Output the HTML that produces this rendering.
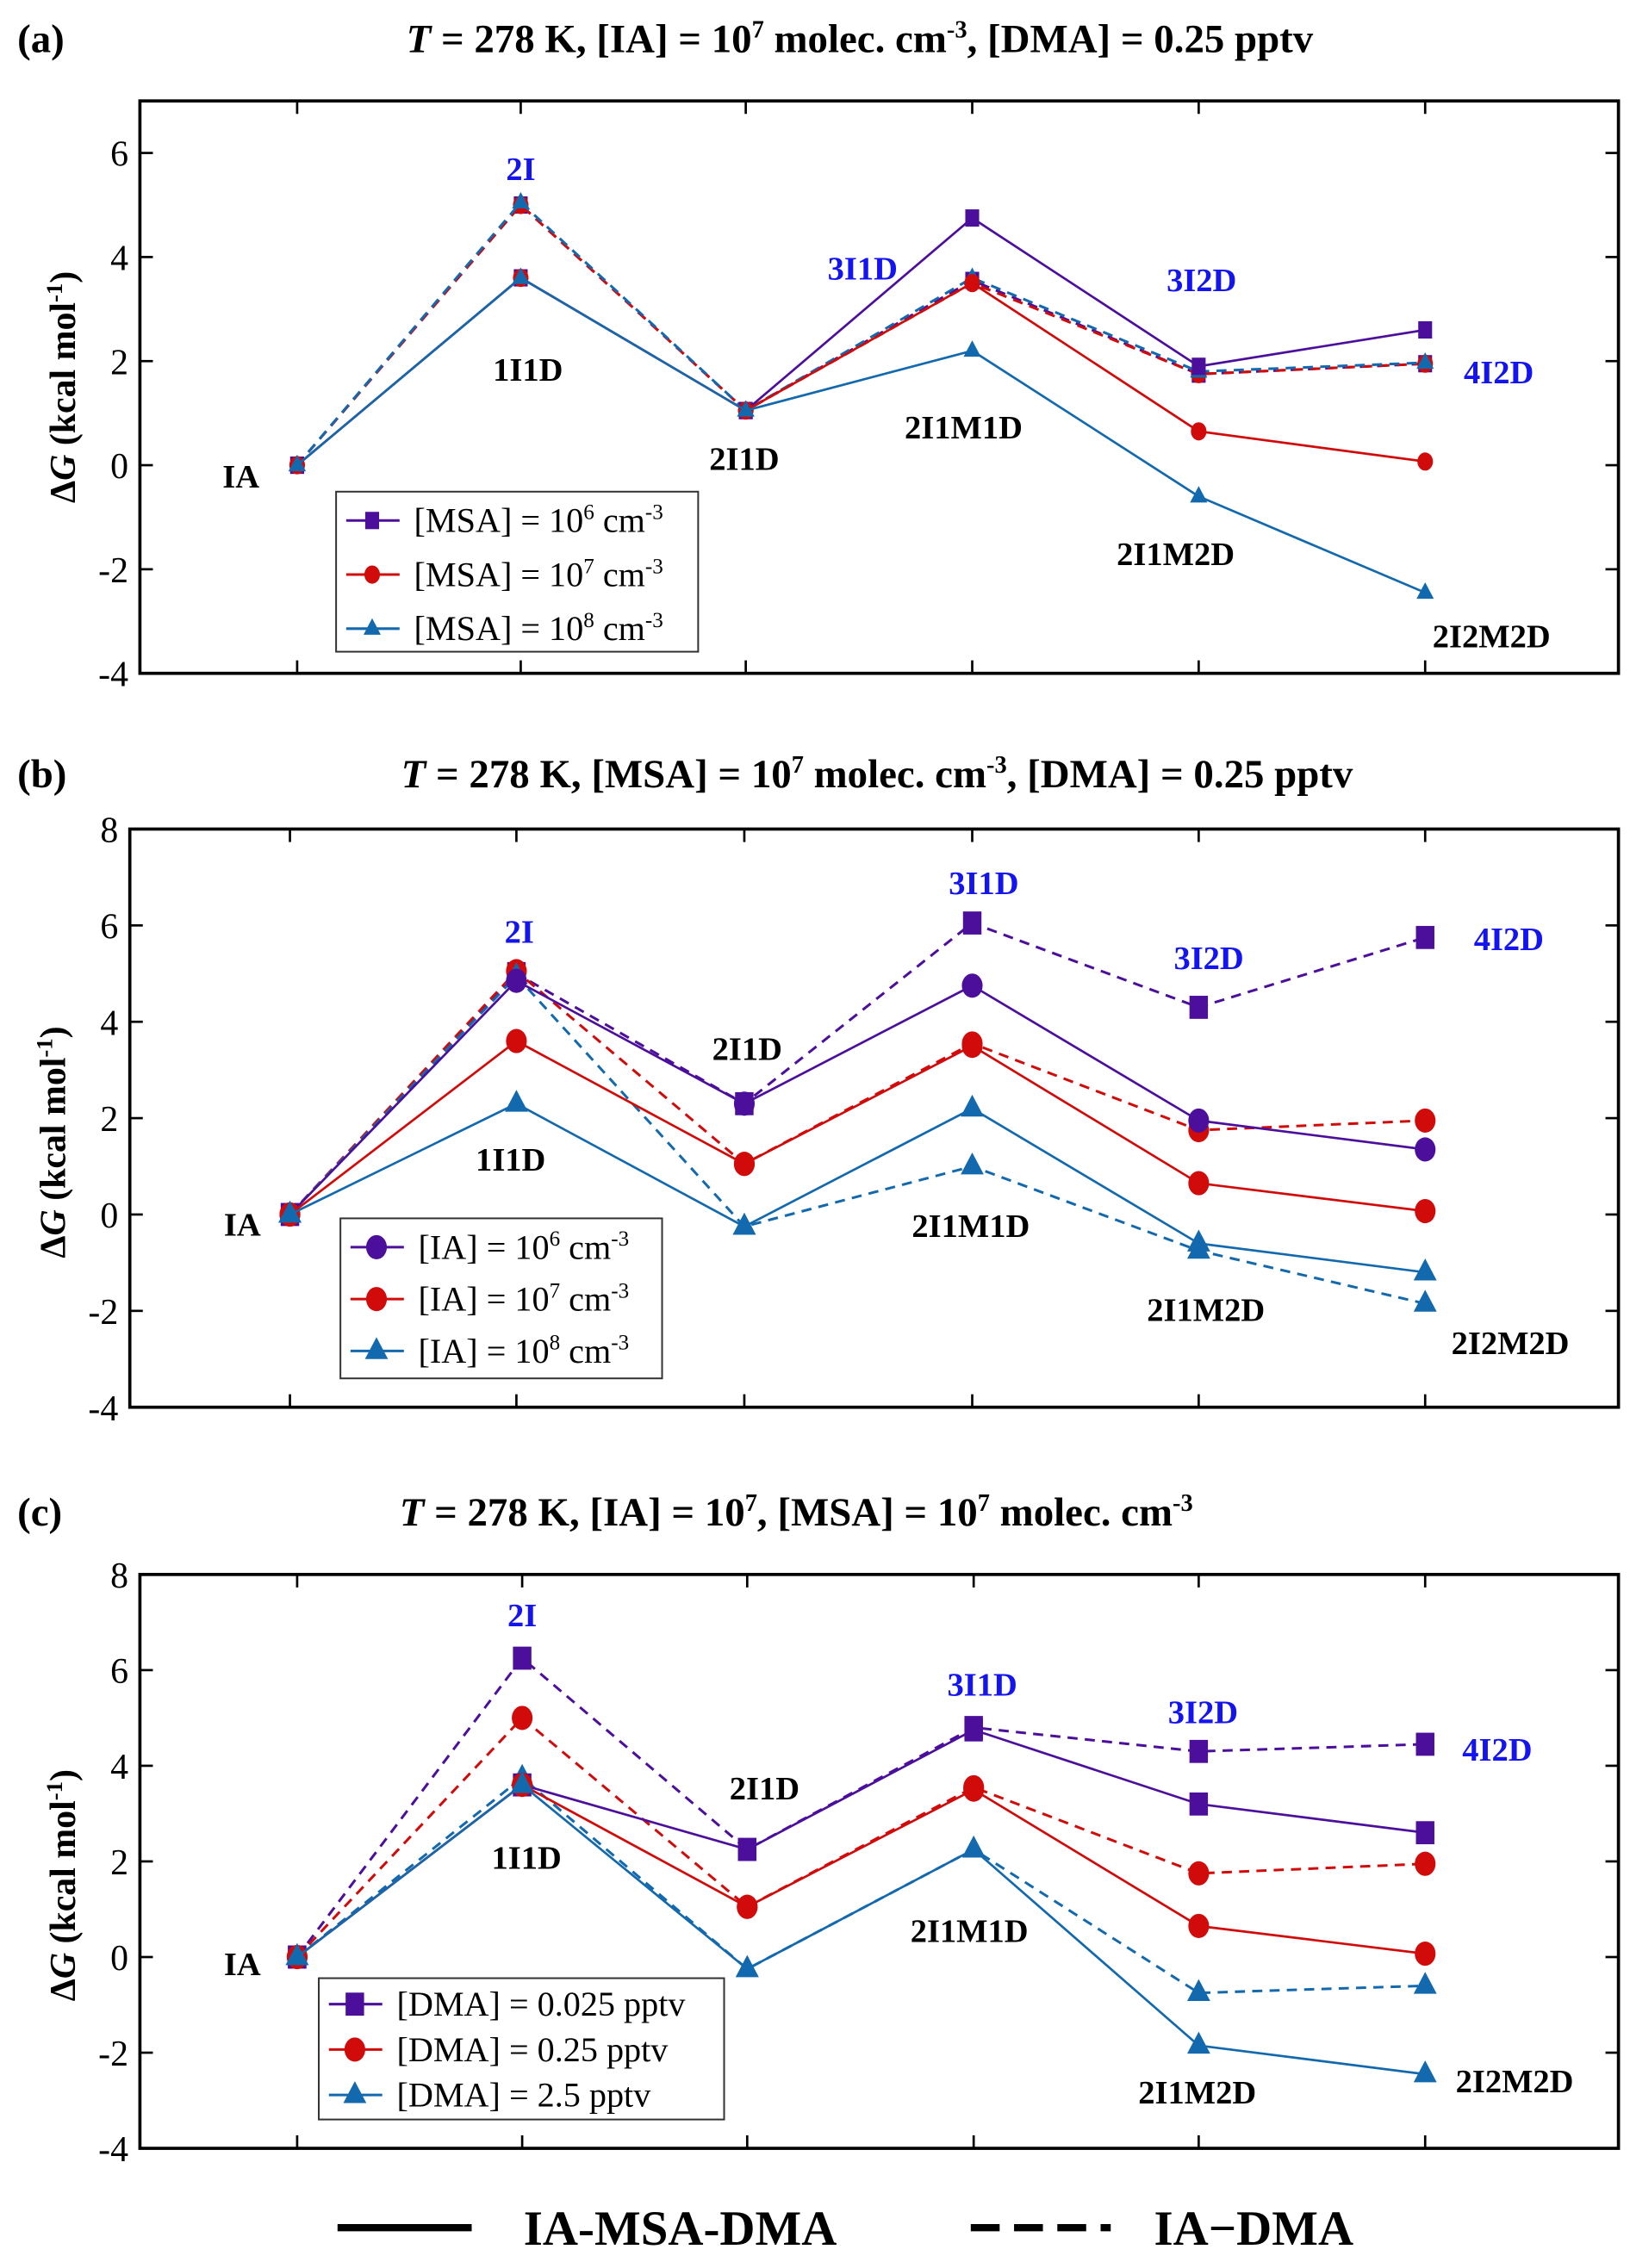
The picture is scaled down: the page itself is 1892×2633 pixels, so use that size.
<!DOCTYPE html>
<html><head><meta charset="utf-8">
<style>
html,body{margin:0;padding:0;background:#fff;}
svg{display:block;}
text{font-family:"Liberation Serif",serif;}
.lbl{font-weight:bold;font-size:23px;}
.blue{fill:#1414f0;}
.tick{font-size:25px;}
.ttl{font-weight:bold;font-size:28px;}
.leg{font-size:24px;}
</style></head>
<body>
<svg id="fig" width="1892" height="2633" viewBox="0 0 1130 1573" preserveAspectRatio="none" font-family="Liberation Serif, serif" xmlns="http://www.w3.org/2000/svg"></svg>
<script>
const categories = ["IA","1I1D","2I1D","2I1M1D","2I1M2D","2I2M2D"];
const yTicks = [-4,-2,0,2,4,6,8];
// Panel a
const aSolidMSA6 = [0,3.6,1.05,4.75,1.9,2.6];
const aSolidMSA7 = [0,3.6,1.05,3.5,0.65,0.07];
const aSolidMSA8 = [0,3.6,1.05,2.2,-0.6,-2.45];
const aDashMSA6 = [0,5.0,1.05,3.55,1.75,1.95];
const aDashMSA7 = [0,5.0,1.05,3.5,1.75,1.95];
const aDashMSA8 = [0,5.05,1.05,3.6,1.8,1.97];
// Panel b
const bSolidIA6 = [0,4.85,2.3,4.75,1.95,1.35];
const bSolidIA7 = [0,3.6,1.05,3.5,0.65,0.07];
const bSolidIA8 = [0,2.3,-0.25,2.2,-0.6,-1.2];
const bDashIA6 = [0,5.0,2.3,6.05,4.3,5.75];
const bDashIA7 = [0,5.05,1.05,3.55,1.75,1.95];
const bDashIA8 = [0,4.95,-0.25,1.0,-0.75,-1.85];
// Panel c
const cSolidDMA025 = [0,3.6,2.25,4.75,3.2,2.6];
const cSolidDMA25 = [0,3.6,1.05,3.5,0.65,0.07];
const cSolidDMA250 = [0,3.6,-0.25,2.25,-1.85,-2.45];
const cDashDMA025 = [0,6.25,2.25,4.8,4.3,4.45];
const cDashDMA25 = [0,5.0,1.05,3.55,1.75,1.95];
const cDashDMA250 = [0,3.75,-0.25,2.25,-0.75,-0.6];

const NS="http://www.w3.org/2000/svg";
const svg=document.getElementById('fig');
function mk(tag,attrs,parent,txt){const e=document.createElementNS(NS,tag);for(const k in attrs)e.setAttribute(k,attrs[k]);if(txt!==undefined)e.textContent=txt;(parent||svg).appendChild(e);return e;}
const PUR="#4b0f9c",RED="#d10a0a",BLU="#1369ad";

function marker(g,shape,x,y,col,s){
  let m;
  if(shape==='sq'){m=mk('rect',{x:x-s*0.8,y:y-s,width:s*1.6,height:s*2,fill:col},g);}
  else if(shape==='ci'){m=mk('ellipse',{cx:x,cy:y,rx:s*0.9,ry:s*1.05,fill:col},g);}
  else {m=mk('polygon',{points:`${x},${y-s*1.2} ${x-s},${y+s*0.7} ${x+s},${y+s*0.7}`,fill:col},g);}
  
  
}

function panel(p){
  const g=mk('g',{});
  
  
  const yS=v=>p.y0+(v-p.ymin)*(p.top-p.y0)/(p.ymax-p.ymin);
  const xS=i=>p.xs[i];
  const t=mk('text',{x:12,y:p.titleY,class:'ttl','font-size':30},g,'('+p.id+')');
  
  const tt=mk('text',{x:p.titleX,y:p.titleY,class:'ttl','text-anchor':'middle'},g);
  
  tt.innerHTML=p.title;
  const box=mk('rect',{x:p.left,y:p.top,width:p.right-p.left,height:p.y0-p.top,fill:'none',stroke:'#000','stroke-width':2.2},g);
  
  categories.forEach((c,i)=>{
    mk('line',{x1:xS(i),x2:xS(i),y1:p.top,y2:p.top+9,stroke:'#000','stroke-width':1.6},g);
    mk('line',{x1:xS(i),x2:xS(i),y1:p.y0,y2:p.y0-9,stroke:'#000','stroke-width':1.6},g);
  });
  yTicks.filter(v=>v>=p.ymin&&v<=p.ymax).forEach(v=>{
    const y=yS(v);
    if(v>p.ymin&&v<p.ymax){
      mk('line',{x1:p.left,x2:p.left+9,y1:y,y2:y,stroke:'#000','stroke-width':1.6},g);
      mk('line',{x1:p.right,x2:p.right-9,y1:y,y2:y,stroke:'#000','stroke-width':1.6},g);
    }
    const tl=mk('text',{x:p.left-8,y:y+9,class:'tick','text-anchor':'end'},g,String(v));
    
  });
  const yt=mk('text',{transform:`translate(${p.ytX},${yS(1.5)}) rotate(-90)`,'text-anchor':'middle','font-weight':'bold','font-size':25},g);
  
  yt.innerHTML='Δ<tspan font-style="italic">G</tspan> (kcal mol<tspan dy="-9" font-size="16">-1</tspan><tspan dy="9">)</tspan>';
  p.series.forEach(s=>{
    const pts=s.vals.map((v,i)=>xS(i)+','+yS(v)).join(' ');
    const l=mk('polyline',{points:pts,fill:'none',stroke:s.col,'stroke-width':s.dash?1.8:1.6,'stroke-dasharray':s.dash?'7,5':'none'},g);
    
    s.vals.forEach((v,i)=>marker(g,s.shape,xS(i),yS(v),s.col,p.ms));
  });
  p.labels.forEach(L=>{
    const e=mk('text',{x:L[1],y:L[2],class:'lbl'+(L[3]?' blue':''),'text-anchor':'middle'},g,L[0]);
    
  });
  const lg=mk('g',{},g);
  
  mk('rect',{x:p.leg.x,y:p.leg.y,width:p.leg.w,height:p.leg.h,fill:'#fff',stroke:'#333','stroke-width':1.2},lg);
  p.leg.items.forEach((it,k)=>{
    const y=p.leg.y+p.leg.y0+k*p.leg.dy;
    const en=mk('g',{},lg);
    
    mk('line',{x1:p.leg.x+7,x2:p.leg.x+44,y1:y,y2:y,stroke:it.col,'stroke-width':1.8},en);
    marker(en,it.shape,p.leg.x+25,y,it.col,p.ms);
    const tx=mk('text',{x:p.leg.x+54,y:y+8,class:'leg'},en);
    tx.innerHTML=it.txt;
  });
}

panel({id:'a',left:97,right:1122,top:70,y0:467,ymin:-4,ymax:7,xs:[206,361,517,674,831,988],ms:6,ytX:52,titleY:36,titleX:596,
 title:'<tspan font-style="italic">T</tspan> = 278 K, [IA] = 10'+'<tspan dy="-10" font-size="17">7</tspan><tspan dy="10"> molec. cm</tspan><tspan dy="-10" font-size="17">-3</tspan><tspan dy="10">, [DMA] = 0.25 pptv</tspan>',
 series:[
  {vals:aDashMSA6,col:PUR,shape:'sq',dash:true,name:'line-msa1e6-ia-dma'},
  {vals:aDashMSA7,col:RED,shape:'ci',dash:true,name:'line-msa1e7-ia-dma'},
  {vals:aDashMSA8,col:BLU,shape:'tr',dash:true,name:'line-msa1e8-ia-dma'},
  {vals:aSolidMSA6,col:PUR,shape:'sq',dash:false,name:'line-msa1e6-ia-msa-dma'},
  {vals:aSolidMSA7,col:RED,shape:'ci',dash:false,name:'line-msa1e7-ia-msa-dma'},
  {vals:aSolidMSA8,col:BLU,shape:'tr',dash:false,name:'line-msa1e8-ia-msa-dma'}],
 labels:[['IA',167,338],['2I',361,125,1],['1I1D',366,264],['2I1D',516,326],['3I1D',598,194,1],['2I1M1D',668,304],['3I2D',833,202,1],['2I1M2D',815,392],['4I2D',1039,266,1],['2I2M2D',1034,449]],
 leg:{x:233,y:341,w:251,h:111,y0:20,dy:37.5,items:[
  {col:PUR,shape:'sq',txt:'[MSA] = 10<tspan dy="-9" font-size="15">6</tspan><tspan dy="9"> cm</tspan><tspan dy="-9" font-size="15">-3</tspan>'},
  {col:RED,shape:'ci',txt:'[MSA] = 10<tspan dy="-9" font-size="15">7</tspan><tspan dy="9"> cm</tspan><tspan dy="-9" font-size="15">-3</tspan>'},
  {col:BLU,shape:'tr',txt:'[MSA] = 10<tspan dy="-9" font-size="15">8</tspan><tspan dy="9"> cm</tspan><tspan dy="-9" font-size="15">-3</tspan>'}]}
});
panel({id:'b',left:90,right:1122,top:575,y0:976,ymin:-4,ymax:8,xs:[201,358,516,674,831,988],ms:8,ytX:45,titleY:546,titleX:608,
 title:'<tspan font-style="italic">T</tspan> = 278 K, [MSA] = 10'+'<tspan dy="-10" font-size="17">7</tspan><tspan dy="10"> molec. cm</tspan><tspan dy="-10" font-size="17">-3</tspan><tspan dy="10">, [DMA] = 0.25 pptv</tspan>',
 series:[
  {vals:bDashIA6,col:PUR,shape:'sq',dash:true,name:'line-ia1e6-ia-dma'},
  {vals:bDashIA7,col:RED,shape:'ci',dash:true,name:'line-ia1e7-ia-dma'},
  {vals:bDashIA8,col:BLU,shape:'tr',dash:true,name:'line-ia1e8-ia-dma'},
  {vals:bSolidIA6,col:PUR,shape:'ci',dash:false,name:'line-ia1e6-ia-msa-dma'},
  {vals:bSolidIA7,col:RED,shape:'ci',dash:false,name:'line-ia1e7-ia-msa-dma'},
  {vals:bSolidIA8,col:BLU,shape:'tr',dash:false,name:'line-ia1e8-ia-msa-dma'}],
 labels:[['IA',168,857],['2I',360,654,1],['1I1D',354,812],['2I1D',518,735],['3I1D',682,620,1],['2I1M1D',673,858],['3I2D',838,672,1],['2I1M2D',836,916],['4I2D',1046,659,1],['2I2M2D',1047,939]],
 leg:{x:236,y:845,w:223,h:111,y0:20,dy:36,items:[
  {col:PUR,shape:'ci',txt:'[IA] = 10<tspan dy="-9" font-size="15">6</tspan><tspan dy="9"> cm</tspan><tspan dy="-9" font-size="15">-3</tspan>'},
  {col:RED,shape:'ci',txt:'[IA] = 10<tspan dy="-9" font-size="15">7</tspan><tspan dy="9"> cm</tspan><tspan dy="-9" font-size="15">-3</tspan>'},
  {col:BLU,shape:'tr',txt:'[IA] = 10<tspan dy="-9" font-size="15">8</tspan><tspan dy="9"> cm</tspan><tspan dy="-9" font-size="15">-3</tspan>'}]}
});
panel({id:'c',left:97,right:1122,top:1092,y0:1490,ymin:-4,ymax:8,xs:[206,362,518,675,831,988],ms:8,ytX:52,titleY:1058,titleX:552,
 title:'<tspan font-style="italic">T</tspan> = 278 K, [IA] = 10'+'<tspan dy="-10" font-size="17">7</tspan><tspan dy="10">, [MSA] = 10</tspan><tspan dy="-10" font-size="17">7</tspan><tspan dy="10"> molec. cm</tspan><tspan dy="-10" font-size="17">-3</tspan>',
 series:[
  {vals:cDashDMA025,col:PUR,shape:'sq',dash:true,name:'line-dma0025-ia-dma'},
  {vals:cDashDMA25,col:RED,shape:'ci',dash:true,name:'line-dma025-ia-dma'},
  {vals:cDashDMA250,col:BLU,shape:'tr',dash:true,name:'line-dma25-ia-dma'},
  {vals:cSolidDMA025,col:PUR,shape:'sq',dash:false,name:'line-dma0025-ia-msa-dma'},
  {vals:cSolidDMA25,col:RED,shape:'ci',dash:false,name:'line-dma025-ia-msa-dma'},
  {vals:cSolidDMA250,col:BLU,shape:'tr',dash:false,name:'line-dma25-ia-msa-dma'}],
 labels:[['IA',168,1370],['2I',362,1128,1],['1I1D',365,1296],['2I1D',530,1248],['3I1D',681,1176,1],['2I1M1D',672,1347],['3I2D',834,1195,1],['2I1M2D',830,1459],['4I2D',1038,1221,1],['2I2M2D',1050,1451]],
 leg:{x:221,y:1372,w:281,h:98,y0:18,dy:31.5,items:[
  {col:PUR,shape:'sq',txt:'[DMA] = 0.025 pptv'},
  {col:RED,shape:'ci',txt:'[DMA] = 0.25 pptv'},
  {col:BLU,shape:'tr',txt:'[DMA] = 2.5 pptv'}]}
});
const bl=mk('g',{});


mk('line',{x1:234,x2:327,y1:1545,y2:1545,stroke:'#000','stroke-width':5},bl);
const t1=mk('text',{x:363,y:1557,'font-weight':'bold','font-size':34},bl,'IA-MSA-DMA');


mk('line',{x1:673,x2:770,y1:1545,y2:1545,stroke:'#000','stroke-width':5,'stroke-dasharray':'20,10'},bl);
const t2=mk('text',{x:800,y:1557,'font-weight':'bold','font-size':34},bl,'IA−DMA');


</script>
</body></html>
